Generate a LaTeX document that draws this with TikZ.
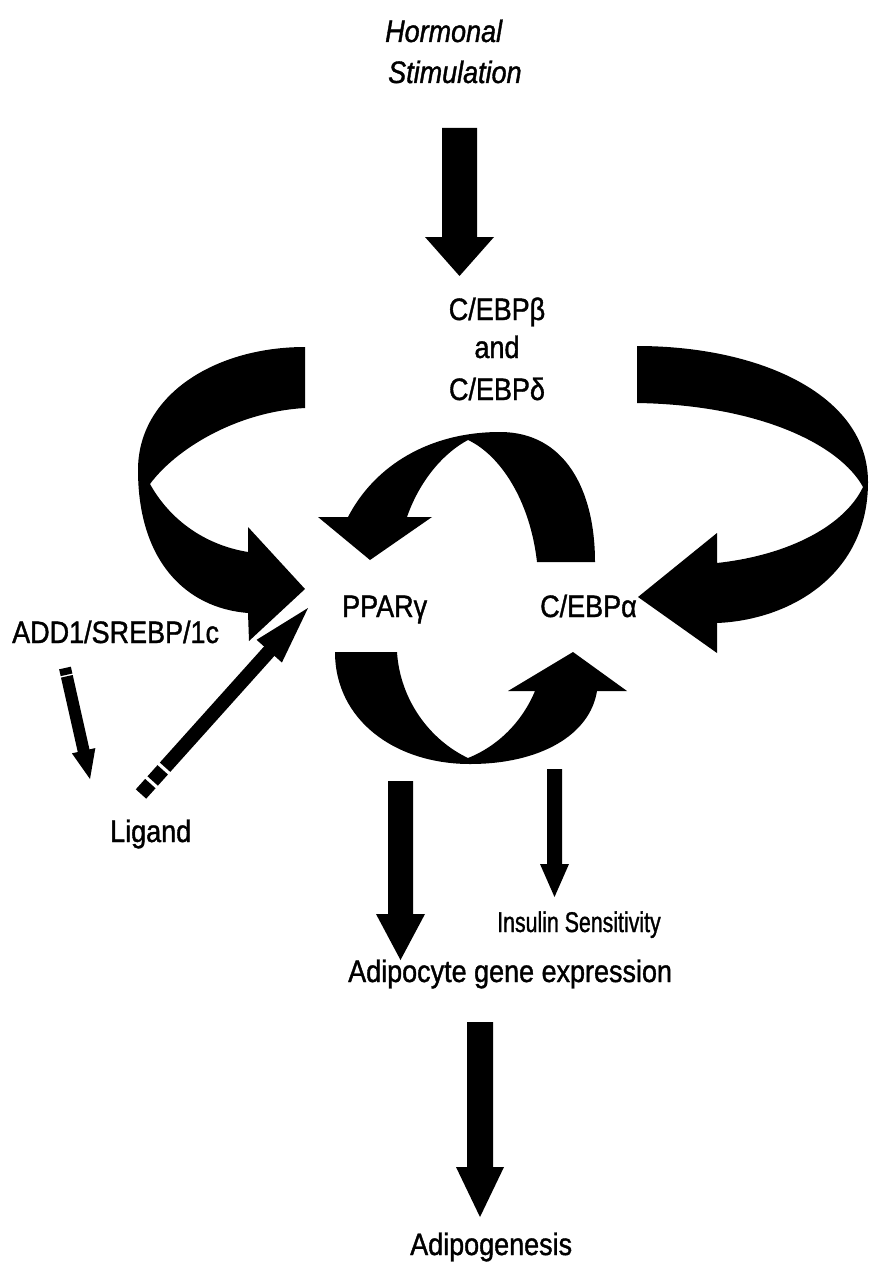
\documentclass[tikz,border=0pt]{standalone}
\usepackage{fontspec}
\setmainfont{Liberation Sans}[FakeStretch=0.87, FakeBold=1.2]
\usetikzlibrary{calc}
\newcommand\sarrow[5]{%
  \coordinate (hb) at ($(#2)!#5!(#1)$);
  \fill ($(#1)!#3!90:(#2)$) -- ($(hb)!#3!-90:(#1)$) -- ($(hb)!#4!-90:(#1)$) -- (#2)
    -- ($(hb)!#4!90:(#1)$) -- ($(hb)!#3!90:(#1)$) -- ($(#1)!#3!-90:(#2)$) -- cycle;
}
\begin{document}
\begin{tikzpicture}[x=1pt,y=-1pt,
  lbl/.style={inner sep=0pt, font=\fontsize{31}{35}\selectfont},
  ilbl/.style={inner sep=0pt, font=\fontsize{31}{35}\selectfont\itshape},
  small/.style={inner sep=0pt, font=\fontsize{28.5}{32}\selectfont},
  blk/.style={fill=black, draw=none}]
\useasboundingbox (0,0) rectangle (869,1268);
\fill[white] (0,0) rectangle (869,1268);

% ---- labels ----
\node[ilbl, anchor=base west] (hor) at (385,42) {Hormonal};
\node[ilbl, anchor=base west] (stim) at (388,83) {Stimulation};
\node[lbl, anchor=base] (cebpb) at (497,320) {C/EBPβ};
\node[lbl, anchor=base] (and) at (497,358) {and};
\node[lbl, anchor=base] (cebpd) at (497,400) {C/EBPδ};
\node[lbl, anchor=base west] (ppar) at (342,617) {PPARγ};
\node[lbl, anchor=base west] (cebpa) at (540,617) {C/EBPα};
\node[lbl, anchor=base west] (add) at (12,643) {ADD1/SREBP/1c};
\node[lbl, anchor=base west] (lig) at (110,842) {Ligand};
\node[small, anchor=base west] (ins) at (497,932) {\scalebox{0.86}[1]{Insulin Sensitivity}};
\node[lbl, anchor=base west] (adg) at (348,982) {Adipocyte gene expression};
\node[lbl, anchor=base west] (apg) at (410,1255) {Adipogenesis};

% ---- straight block arrows ----
\coordinate (hs-t) at (459.5,128); \coordinate (hs-h) at (459.5,276);
\sarrow{hs-t}{hs-h}{17.5pt}{34.5pt}{39pt}
\coordinate (ag-t) at (400.5,781); \coordinate (ag-h) at (400.5,960);
\sarrow{ag-t}{ag-h}{12.5pt}{24.5pt}{46pt}
\coordinate (is-t) at (554.5,769); \coordinate (is-h) at (554.5,897);
\sarrow{is-t}{is-h}{7.5pt}{14.5pt}{33pt}
\coordinate (ap-t) at (480,1022); \coordinate (ap-h) at (480,1217);
\sarrow{ap-t}{ap-h}{13pt}{24pt}{50pt}

% ADD1 -> Ligand
\coordinate (ad-t) at (65,668); \coordinate (ad-h) at (90,779);
\coordinate (ad-b) at ($(ad-h)!29pt!(ad-t)$);
\draw[line width=12pt, dash pattern=on 7pt off 1.5pt on 300pt] (ad-t) -- ($(ad-h)!27pt!(ad-t)$);
\fill ($(ad-b)!12pt!90:(ad-h)$) -- (ad-h) -- ($(ad-b)!12pt!-90:(ad-h)$) -- cycle;

% Ligand -> PPARg (dashed tail)
\coordinate (lg-t) at (141,794); \coordinate (lg-h) at (308,608);
\coordinate (lg-b) at ($(lg-h)!58pt!(lg-t)$);
\draw[line width=14pt, dash pattern=on 14pt off 3.5pt on 15pt off 3.5pt on 400pt] (lg-t) -- ($(lg-h)!56pt!(lg-t)$);
\fill ($(lg-b)!17pt!90:(lg-h)$) -- (lg-h) -- ($(lg-b)!17pt!-90:(lg-h)$) -- cycle;

% ---- curved block arrows ----
% left big: C/EBPb,d -> PPARg
\fill[blk] (305,347) .. controls (215,347) and (138,395) .. (138,470)
  .. controls (138,560) and (185,608) .. (248,613)
  -- (249,641) -- (305,589) -- (248,527) -- (248,552)
  .. controls (205,545) and (170,520) .. (150,484)
  .. controls (175,450) and (235,412) .. (305,408) -- cycle;
% right big: C/EBPb,d -> C/EBPa
\fill[blk] (637,346) .. controls (760,346) and (868,395) .. (868,482)
  .. controls (868,575) and (790,620) .. (717,623)
  -- (717,653) -- (638,597) -- (717,533) -- (717,563)
  .. controls (790,555) and (845,525) .. (863,487)
  .. controls (840,445) and (760,405) .. (637,403) -- cycle;
% upper central: C/EBPa -> PPARg
\fill[blk] (595,562) .. controls (595,490) and (565,432) .. (500,432)
  .. controls (430,432) and (375,465) .. (348,517)
  -- (318,517) -- (370,560) -- (432,517) -- (407,517)
  .. controls (418,485) and (440,455) .. (468,440)
  .. controls (500,455) and (530,500) .. (537,562) -- cycle;
% lower central: PPARg -> C/EBPa
\fill[blk] (335,652) .. controls (335,720) and (395,764) .. (470,764)
  .. controls (540,764) and (590,735) .. (597,691)
  -- (627,691) -- (573,652) -- (508,691) -- (535,691)
  .. controls (522,722) and (498,746) .. (468,758)
  .. controls (430,740) and (400,700) .. (397,652) -- cycle;
\end{tikzpicture}
\end{document}
